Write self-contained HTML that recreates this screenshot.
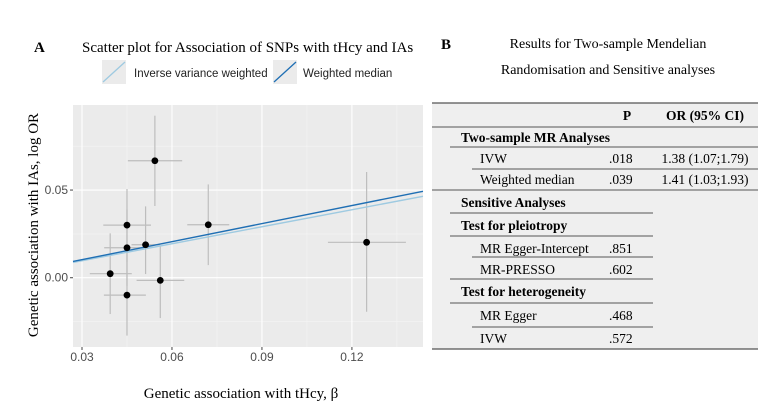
<!DOCTYPE html>
<html><head><meta charset="utf-8"><style>
body{margin:0;background:#fff;width:779px;height:415px;overflow:hidden;font-family:"Liberation Serif",serif;}
.t{position:absolute;white-space:nowrap;}
</style></head><body>
<div style="position:relative;width:779px;height:415px;">
<svg id="chart" width="779" height="415" style="position:absolute;left:0;top:0">
  <text x="34" y="52" font-family="Liberation Serif" font-weight="bold" font-size="15">A</text>
  <text x="82" y="52" font-family="Liberation Serif" font-size="15">Scatter plot for Association of SNPs with tHcy and IAs</text>
  <g>
    <rect x="102" y="60" width="24" height="24" fill="#ebebeb"/>
    <line x1="103" y1="82" x2="125" y2="62" stroke="#9ecae1" stroke-width="1.3"/>
    <text x="134" y="77" font-family="Liberation Sans" font-size="11.5" fill="#222">Inverse variance weighted</text>
    <rect x="273" y="60" width="24" height="24" fill="#ebebeb"/>
    <line x1="274" y1="82" x2="296" y2="62" stroke="#1f6fb4" stroke-width="1.3"/>
    <text x="303" y="77" font-family="Liberation Sans" font-size="11.5" fill="#222">Weighted median</text>
  </g>
  <g id="plot"></g>
  <text x="241" y="398" text-anchor="middle" font-family="Liberation Serif" font-size="15">Genetic association with tHcy, β</text>
  <text transform="translate(38,225) rotate(-90)" text-anchor="middle" font-family="Liberation Serif" font-size="15">Genetic association with IAs, log OR</text>
</svg>

<div class="t" style="left:441px;top:37px;font-weight:bold;font-size:15px">B</div>
<div class="t" style="left:608px;top:37px;transform:translateX(-50%);font-size:14px">Results for Two-sample Mendelian</div>
<div class="t" style="left:608px;top:63px;transform:translateX(-50%);font-size:14px">Randomisation and Sensitive analyses</div>

<svg width="779" height="415" style="position:absolute;left:0;top:0" font-family="Liberation Serif" font-size="13.5">
  <rect x="432" y="103" width="326" height="246" fill="#efefef"/>
  <line x1="432" y1="103" x2="758" y2="103" stroke="#555" stroke-width="1.2"/>
  <line x1="432" y1="127" x2="758" y2="127" stroke="#555"/>
  <line x1="450" y1="147" x2="758" y2="147" stroke="#555"/>
  <line x1="472" y1="169" x2="758" y2="169" stroke="#555"/>
  <line x1="432" y1="190" x2="758" y2="190" stroke="#555"/>
  <line x1="450" y1="213" x2="653" y2="213" stroke="#555"/>
  <line x1="450" y1="236" x2="653" y2="236" stroke="#555"/>
  <line x1="472" y1="257" x2="653" y2="257" stroke="#555"/>
  <line x1="450" y1="279" x2="653" y2="279" stroke="#555"/>
  <line x1="450" y1="303" x2="653" y2="303" stroke="#555"/>
  <line x1="472" y1="327" x2="653" y2="327" stroke="#555"/>
  <line x1="432" y1="349" x2="758" y2="349" stroke="#555" stroke-width="1.2"/>
  <text x="627" y="120" text-anchor="middle" font-weight="bold">P</text>
  <text x="705" y="120" text-anchor="middle" font-weight="bold">OR (95% CI)</text>
  <text x="461" y="142" font-weight="bold">Two-sample MR Analyses</text>
  <text x="480" y="163">IVW</text>
  <text x="609" y="163">.018</text>
  <text x="705" y="163" text-anchor="middle">1.38 (1.07;1.79)</text>
  <text x="480" y="184">Weighted median</text>
  <text x="609" y="184">.039</text>
  <text x="705" y="184" text-anchor="middle">1.41 (1.03;1.93)</text>
  <text x="461" y="207" font-weight="bold">Sensitive Analyses</text>
  <text x="461" y="230" font-weight="bold">Test for pleiotropy</text>
  <text x="480" y="253">MR Egger-Intercept</text>
  <text x="609" y="253">.851</text>
  <text x="480" y="274">MR-PRESSO</text>
  <text x="609" y="274">.602</text>
  <text x="461" y="296" font-weight="bold">Test for heterogeneity</text>
  <text x="480" y="320">MR Egger</text>
  <text x="609" y="320">.468</text>
  <text x="480" y="343">IVW</text>
  <text x="609" y="343">.572</text>
</svg>
</div>
<script>
const xVals=[0.0394,0.045,0.045,0.045,0.0512,0.0543,0.0561,0.0721,0.1249];
const yVals=[0.0023,0.030,0.0171,-0.0099,0.0188,0.0667,-0.0015,0.0302,0.0202];
const xLo=[0.0326,0.0371,0.0374,0.0373,0.0465,0.0453,0.0482,0.0651,0.112];
const xHi=[0.0466,0.053,0.0527,0.0513,0.0560,0.0634,0.0641,0.0791,0.138];
const yLo=[-0.0207,0.009,-0.0047,-0.033,0.0021,0.0409,-0.023,0.0072,-0.0194];
const yHi=[0.0253,0.0506,0.039,0.013,0.0407,0.0924,0.0185,0.0532,0.0603];
const slopes=[0.323,0.343];
const slopeNames=['ivw-line','weighted-median-line'];
const xTicks=[0.03,0.06,0.09,0.12];
const xTickLabels=['0.03','0.06','0.09','0.12'];
const yTicks=[0,0.05];
const yTickLabels=['0.00','0.05'];
const xMinor=[0.045,0.075,0.105,0.135];
const yMinor=[-0.025,0.025,0.075];

const L=73,R=423,T=105,B=347;
const XMIN=0.027,XMAX=0.1437,YMIN=-0.0395,YMAX=0.0985;
const sx=v=>L+(v-XMIN)/(XMAX-XMIN)*(R-L);
const sy=v=>B-(v-YMIN)/(YMAX-YMIN)*(B-T);
const NS='http://www.w3.org/2000/svg';
const g=document.getElementById('plot');
function mk(tag,attrs){const e=document.createElementNS(NS,tag);for(const k in attrs)e.setAttribute(k,attrs[k]);g.appendChild(e);return e;}
let e=mk('rect',{x:L,y:T,width:R-L,height:B-T,fill:'#ebebeb'});


xMinor.forEach(v=>{mk('line',{x1:sx(v),x2:sx(v),y1:T,y2:B,stroke:'#f5f5f5','stroke-width':0.6});});
yMinor.forEach(v=>{mk('line',{x1:L,x2:R,y1:sy(v),y2:sy(v),stroke:'#f5f5f5','stroke-width':0.6});});
xTicks.forEach((v,i)=>{
  mk('line',{x1:sx(v),x2:sx(v),y1:T,y2:B,stroke:'#fff','stroke-width':1.1});
  mk('line',{x1:sx(v),x2:sx(v),y1:B,y2:B+3,stroke:'#444'});
  const t=mk('text',{x:sx(v),y:B+14,'text-anchor':'middle','font-family':'Liberation Sans','font-size':12,fill:'#4d4d4d'});
  t.textContent=xTickLabels[i];
  
  
});
yTicks.forEach((v,i)=>{
  mk('line',{x1:L,x2:R,y1:sy(v),y2:sy(v),stroke:'#fff','stroke-width':1.1});
  mk('line',{x1:L-3,x2:L,y1:sy(v),y2:sy(v),stroke:'#444'});
  const t=mk('text',{x:L-5,y:sy(v)+4,'text-anchor':'end','font-family':'Liberation Sans','font-size':12,fill:'#4d4d4d'});
  t.textContent=yTickLabels[i];
  
  
});
xVals.forEach((x,i)=>{
  let h=mk('line',{x1:sx(xLo[i]),x2:sx(xHi[i]),y1:sy(yVals[i]),y2:sy(yVals[i]),stroke:'#bdbdbd','stroke-width':1.2});
  
  
  let v=mk('line',{x1:sx(x),x2:sx(x),y1:sy(yLo[i]),y2:sy(yHi[i]),stroke:'#bdbdbd','stroke-width':1.2});
  
  
});
const cols=['#9ecae1','#1f6fb4'];
slopes.forEach((s,i)=>{
  const l=mk('line',{x1:sx(XMIN),y1:sy(s*XMIN),x2:sx(XMAX),y2:sy(s*XMAX),stroke:cols[i],'stroke-width':1.4});
  
  
});
xVals.forEach((x,i)=>{
  const c=mk('circle',{cx:sx(x),cy:sy(yVals[i]),r:3.4,fill:'#000'});
  
  
});
</script>
</body></html>
